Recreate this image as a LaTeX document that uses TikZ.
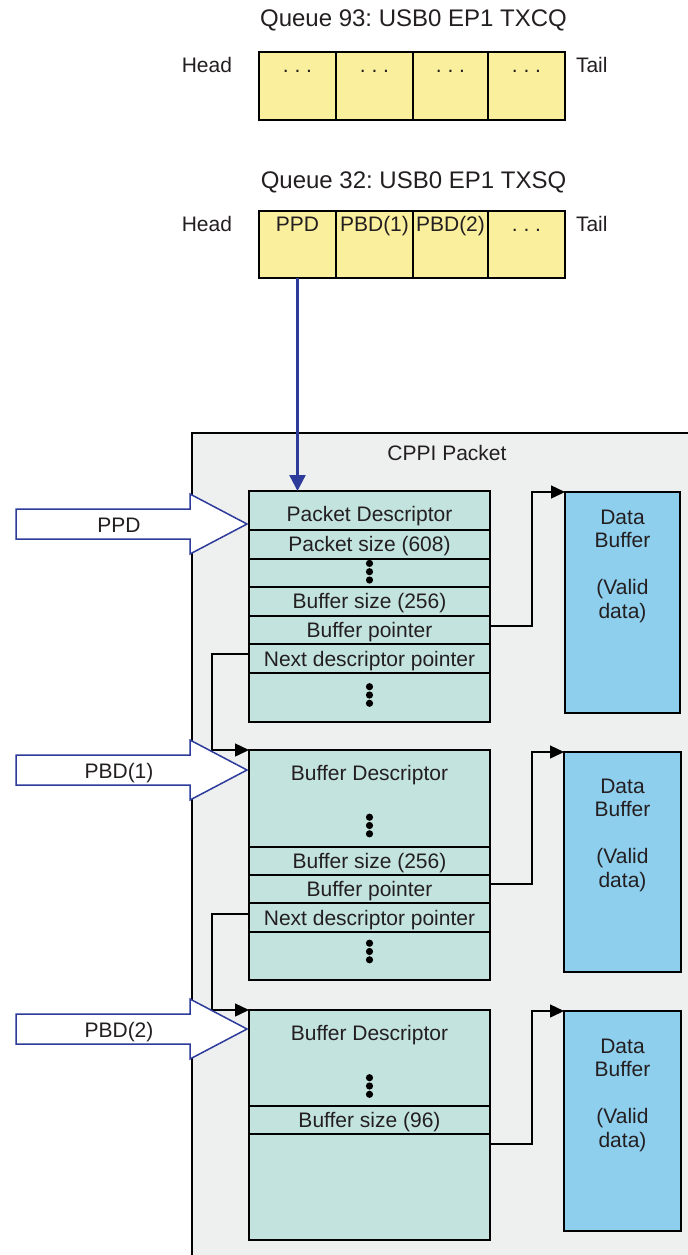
\documentclass[tikz,border=0pt]{standalone}
\usepackage{fontspec}
\setmainfont{Liberation Sans}
\frenchspacing
\usetikzlibrary{arrows.meta,calc}
\definecolor{qyellow}{HTML}{FAEF9D}
\definecolor{dteal}{HTML}{C3E3DF}
\definecolor{dblue}{HTML}{8ECFEE}
\definecolor{cgray}{HTML}{EEF0EF}
\definecolor{arrblue}{HTML}{2D3B9B}
\definecolor{txtc}{HTML}{231F20}
% pixel box: style, name, x1, y1, x2, y2
\newcommand\pxbox[6]{\node[#1, minimum width={(#5-#3)*0.5pt}, minimum height={(#6-#4)*0.5pt}] (#2) at ({(#3+#5)/2},{(#4+#6)/2}) {};}
% text on baseline below the top of a named node
\newcommand\pxtext[3][10.5pt]{\node[txt, anchor=base] (#2-t) at ([yshift=-#1]#2.north) {#3};}
% column of three dots
\newcommand\dotstack[2]{%
  \fill[black] (#1,{#2-8.3}) circle[radius=1.8pt];
  \fill[black] (#1,#2) circle[radius=1.8pt];
  \fill[black] (#1,{#2+8.3}) circle[radius=1.8pt];}
% block arrow: name, centre y, text
\newcommand\blockarrow[3]{%
  \draw[blk] (16,{#2-15}) -- (190,{#2-15}) -- (190,{#2-30}) -- (247,#2) -- (190,{#2+30}) -- (190,{#2+15}) -- (16,{#2+15}) -- cycle;
  \node[txt, anchor=base] (#1) at (119,{#2+8.5}) {#3};}
\tikzset{
  qcell/.style={draw=black, line width=1.1pt, fill=qyellow, inner sep=0pt, outer sep=0pt},
  dbox/.style={draw=black, line width=1.1pt, fill=dteal, inner sep=0pt, outer sep=0pt},
  drow/.style={draw=black, line width=1.1pt, inner sep=0pt, outer sep=0pt},
  dbuf/.style={draw=black, line width=1.1pt, fill=dblue, inner sep=0pt, outer sep=0pt},
  txt/.style={inner sep=0pt, outer sep=0pt},
  titletxt/.style={txt, font=\fontsize{12}{14}\selectfont},
  conn/.style={draw=black, line width=0.7pt, -{Triangle[length=7pt,width=6.5pt]}},
  ptr/.style={draw=arrblue, line width=1.1pt, -{Triangle[length=8pt,width=8pt]}},
  blk/.style={draw=arrblue, line width=0.75pt, fill=white, line join=miter},
}
\begin{document}
\begin{tikzpicture}[x=0.5pt, y=-0.5pt, font=\fontsize{10.5}{11.75}\selectfont, text=txtc]
\useasboundingbox (0,0) rectangle (688,1255);

% ---------- Queue 93 ----------
\node[titletxt, anchor=base] (q1title) at (413.5,26.7) {Queue 93: USB0 EP1 TXCQ};
\pxbox{qcell}{q1a}{259}{52}{336}{120}
\pxbox{qcell}{q1b}{336}{52}{413}{120}
\pxbox{qcell}{q1c}{413}{52}{488}{120}
\pxbox{qcell}{q1d}{488}{52}{565}{120}
\pxtext[10.25pt]{q1a}{.\ .\ .}
\pxtext[10.25pt]{q1b}{.\ .\ .}
\pxtext[10.25pt]{q1c}{.\ .\ .}
\pxtext[10.25pt]{q1d}{.\ .\ .}
\node[txt, anchor=base east] (q1head) at ([xshift=-13.5pt,yshift=-10pt]q1a.north west) {Head};
\node[txt, anchor=base west] (q1tail) at ([xshift=5.5pt,yshift=-10pt]q1d.north east) {Tail};

% ---------- Queue 32 ----------
\node[titletxt, anchor=base] (q2title) at (413.5,188.3) {Queue 32: USB0 EP1 TXSQ};
\pxbox{qcell}{q2a}{259}{211}{336}{278}
\pxbox{qcell}{q2b}{336}{211}{413}{278}
\pxbox{qcell}{q2c}{413}{211}{488}{278}
\pxbox{qcell}{q2d}{488}{211}{565}{278}
\pxtext[10.25pt]{q2a}{PPD}
\pxtext[10.25pt]{q2b}{PBD(1)}
\pxtext[10.25pt]{q2c}{PBD(2)}
\pxtext[10.25pt]{q2d}{.\ .\ .}
\node[txt, anchor=base east] (q2head) at ([xshift=-13.5pt,yshift=-10pt]q2a.north west) {Head};
\node[txt, anchor=base west] (q2tail) at ([xshift=5.5pt,yshift=-10pt]q2d.north east) {Tail};

% ---------- CPPI packet frame ----------
\fill[cgray] (192,433) rectangle (688,1255);
\draw[line width=1.1pt] (688,433) -- (192,433) -- (192,1255);
\node[txt, anchor=base] (cppi) at (447,460) {CPPI Packet};

% ---------- Descriptor 1 ----------
\pxbox{dbox}{d1}{249}{491}{490}{722}
\pxbox{drow}{r1a}{249}{491}{490}{530}
\pxbox{drow}{r1b}{249}{530}{490}{559}
\pxbox{drow}{r1c}{249}{559}{490}{587}
\pxbox{drow}{r1d}{249}{587}{490}{616}
\pxbox{drow}{r1e}{249}{616}{490}{644}
\pxbox{drow}{r1f}{249}{644}{490}{673}
\pxbox{drow}{r1g}{249}{673}{490}{722}
\pxtext[15pt]{r1a}{Packet Descriptor}
\pxtext{r1b}{Packet size (608)}
\pxtext{r1d}{Buffer size (256)}
\pxtext{r1e}{Buffer pointer}
\pxtext[11pt]{r1f}{Next descriptor pointer}
\dotstack{369.5}{571.7}
\dotstack{369.5}{695}

% ---------- Descriptor 2 ----------
\pxbox{dbox}{d2}{249}{750}{490}{980}
\pxbox{drow}{r2a}{249}{750}{490}{847}
\pxbox{drow}{r2b}{249}{847}{490}{875}
\pxbox{drow}{r2c}{249}{875}{490}{903}
\pxbox{drow}{r2d}{249}{903}{490}{932}
\pxbox{drow}{r2e}{249}{932}{490}{980}
\pxtext[15pt]{r2a}{Buffer Descriptor}
\pxtext{r2b}{Buffer size (256)}
\pxtext{r2c}{Buffer pointer}
\pxtext[11pt]{r2d}{Next descriptor pointer}
\dotstack{369.5}{825.5}
\dotstack{369.5}{951.5}

% ---------- Descriptor 3 ----------
\pxbox{dbox}{d3}{249}{1010}{490}{1240}
\pxbox{drow}{r3a}{249}{1010}{490}{1106}
\pxbox{drow}{r3b}{249}{1106}{490}{1134}
\pxbox{drow}{r3c}{249}{1134}{490}{1240}
\pxtext[15pt]{r3a}{Buffer Descriptor}
\pxtext{r3b}{Buffer size (96)}
\dotstack{369.5}{1086}

% ---------- Data buffers ----------
\pxbox{dbuf}{db1}{565}{492}{680}{713}
\pxbox{dbuf}{db2}{564}{752}{681}{972}
\pxbox{dbuf}{db3}{564}{1011}{681}{1231}
\node[txt, anchor=north, align=center] (db1-t) at (622.5,510) {Data\\Buffer\\[11.75pt](Valid\\data)};
\node[txt, anchor=north, align=center] (db2-t) at (622.5,779) {Data\\Buffer\\[11.75pt](Valid\\data)};
\node[txt, anchor=north, align=center] (db3-t) at (622.5,1039) {Data\\Buffer\\[11.75pt](Valid\\data)};

% ---------- Connectors ----------
\draw[ptr] (q2a.south) -- (q2a.south |- r1a.north);
\draw[conn] ([yshift=-5pt]r1e.north east) -| ([xshift=-16.5pt]db1.north west) -- (db1.north west);
\draw[conn] ([yshift=-4.5pt]r2c.north east) -| ([xshift=-16pt]db2.north west) -- (db2.north west);
\draw[conn] ([yshift=-5pt]r3c.north east) -| ([xshift=-16pt]db3.north west) -- (db3.north west);
\draw[conn] ([yshift=-5pt]r1f.north west) -| ([xshift=-18.5pt]d2.north west) -- (d2.north west);
\draw[conn] ([yshift=-5.5pt]r2d.north west) -| ([xshift=-18.5pt]d3.north west) -- (d3.north west);

% ---------- Block arrows ----------
\blockarrow{ppd}{524}{PPD}
\blockarrow{pbd1}{770}{PBD(1)}
\blockarrow{pbd2}{1029}{PBD(2)}
\end{tikzpicture}
\end{document}
